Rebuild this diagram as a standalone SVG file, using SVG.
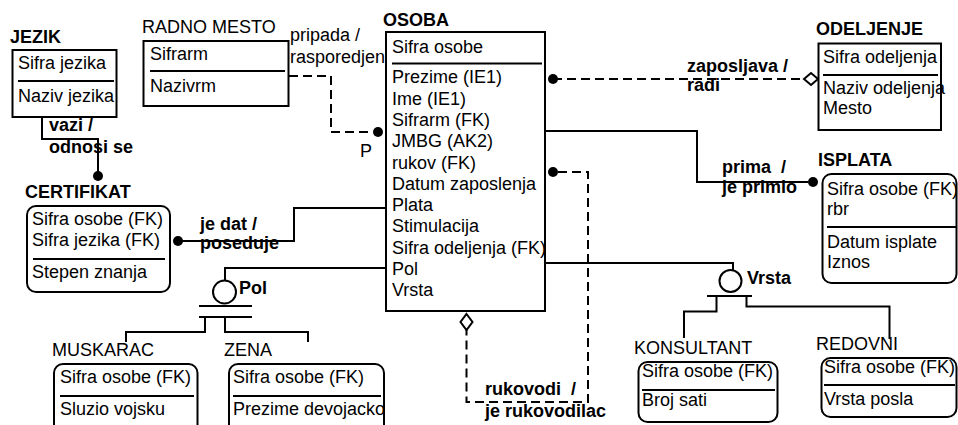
<svg xmlns="http://www.w3.org/2000/svg" width="958" height="425" viewBox="0 0 958 425">
<style>
text{font-family:"Liberation Sans",Arial,sans-serif;font-size:18px;fill:#000}
.b{font-weight:bold}
.box{fill:#fff;stroke:#000;stroke-width:2}
.dv{stroke:#000;stroke-width:2}
.ln{fill:none;stroke:#000;stroke-width:2}
.ds{fill:none;stroke:#000;stroke-width:2;stroke-dasharray:9 5}
.dot{fill:#000}
.dia{fill:#fff;stroke:#000;stroke-width:2}
.cir{fill:#fff;stroke:#000;stroke-width:2}
</style>
<rect width="958" height="425" fill="#fff"/>
<g id="connectors">
<polyline class="ln" points="42,117 42,139 98,139 98,176"/>
<circle class="dot" cx="98" cy="176" r="5"/>
<polyline class="ds" points="289,76 331,76 331,132 372,132"/>
<circle class="dot" cx="378" cy="132" r="5"/>
<polyline class="ln" points="178,241 294,241 294,208 386,208"/>
<circle class="dot" cx="178" cy="241" r="5"/>
<line class="ds" x1="553" y1="79" x2="803" y2="79"/>
<circle class="dot" cx="553" cy="79" r="5"/>
<polygon class="dia" points="804,79 811,73 818,79 811,85"/>
<polyline class="ln" points="545,131 697,131 697,182 808,182"/>
<circle class="dot" cx="813" cy="182" r="5"/>
<polyline class="ds" points="558,172 588,172 588,402 466.5,402 466.5,330"/>
<circle class="dot" cx="553" cy="172" r="5"/>
<polygon class="dia" points="466.5,314 472.5,322 466.5,330 460.5,322"/>
<polyline class="ln" points="386,268 225,268 225,280"/>
<circle class="cir" cx="224.5" cy="292" r="11.5"/>
<line class="dv" x1="199" y1="306" x2="252" y2="306"/>
<line class="dv" x1="199" y1="317" x2="252" y2="317"/>
<polyline class="ln" points="205,317 205,332 126,332 126,342"/>
<polyline class="ln" points="225,317 225,332 308,332 308,342"/>
<polyline class="ln" points="545,263 733,263 733,270"/>
<circle class="cir" cx="730.5" cy="281" r="11"/>
<line class="dv" x1="707" y1="296" x2="752" y2="296"/>
<polyline class="ln" points="716.5,296 716.5,311.5 684,311.5 684,338"/>
<polyline class="ln" points="746.5,296 746.5,306.5 889.5,306.5 889.5,339"/>
<text class="b" x="49" y="131">vazi /</text>
<text class="b" x="49" y="153">odnosi se</text>
<text x="290" y="41">pripada /</text>
<text x="290" y="63">rasporedjen</text>
<text x="360" y="157">P</text>
<text class="b" x="200" y="230">je dat /</text>
<text class="b" x="200" y="249">poseduje</text>
<text class="b" x="687" y="72">zaposljava /</text>
<text class="b" x="687" y="91">radi</text>
<text class="b" x="722" y="173" xml:space="preserve">prima  /</text>
<text class="b" x="722" y="193">je primio</text>
<text class="b" x="485" y="395" xml:space="preserve">rukovodi  /</text>
<text class="b" x="485" y="417">je rukovodilac</text>
<text class="b" x="239" y="294">Pol</text>
<text class="b" x="747" y="284">Vrsta</text>
</g>
<g id="jezik">
<text class="b" x="10" y="43">JEZIK</text>
<rect class="box" x="12.5" y="50" width="104" height="67"/>
<line class="dv" x1="18" y1="81" x2="114" y2="81"/>
<text x="18" y="69">Sifra jezika</text>
<text x="18" y="102">Naziv jezika</text>
</g>
<g id="radno-mesto">
<text x="142" y="33">RADNO MESTO</text>
<rect class="box" x="143.5" y="41" width="145" height="65"/>
<line class="dv" x1="150" y1="71" x2="285" y2="71"/>
<text x="150" y="60">Sifrarm</text>
<text x="150" y="92">Nazivrm</text>
</g>
<g id="osoba">
<text class="b" x="383" y="26">OSOBA</text>
<rect class="box" x="386" y="32" width="159" height="279"/>
<line class="dv" x1="392" y1="63.5" x2="542" y2="63.5"/>
<text x="392" y="53">Sifra osobe</text>
<text x="392" y="83.3">Prezime (IE1)</text>
<text x="392" y="104.6">Ime (IE1)</text>
<text x="392" y="125.9">Sifrarm (FK)</text>
<text x="392" y="147.2">JMBG (AK2)</text>
<text x="392" y="168.5">rukov (FK)</text>
<text x="392" y="189.8">Datum zaposlenja</text>
<text x="392" y="211.1">Plata</text>
<text x="392" y="232.4">Stimulacija</text>
<text x="392" y="253.7">Sifra odeljenja (FK)</text>
<text x="392" y="275">Pol</text>
<text x="392" y="296.3">Vrsta</text>
</g>
<g id="odeljenje">
<text class="b" x="816" y="35">ODELJENJE</text>
<rect class="box" x="818.5" y="43.5" width="122.5" height="86.5"/>
<line class="dv" x1="823" y1="75" x2="938" y2="75"/>
<text x="823" y="63">Sifra odeljenja</text>
<text x="823" y="94">Naziv odeljenja</text>
<text x="823" y="114">Mesto</text>
</g>
<g id="isplata">
<text class="b" x="818" y="166">ISPLATA</text>
<rect class="box" x="822.5" y="174" width="134" height="109" rx="9"/>
<line class="dv" x1="827" y1="227" x2="956" y2="227"/>
<text x="827" y="195">Sifra osobe (FK)</text>
<text x="827" y="215">rbr</text>
<text x="827" y="248">Datum isplate</text>
<text x="827" y="268">Iznos</text>
</g>
<g id="certifikat">
<text class="b" x="25" y="198">CERTIFIKAT</text>
<rect class="box" x="27" y="206" width="143" height="86" rx="9"/>
<line class="dv" x1="33" y1="259" x2="165" y2="259"/>
<text x="32" y="225">Sifra osobe (FK)</text>
<text x="32" y="246">Sifra jezika (FK)</text>
<text x="32" y="278">Stepen znanja</text>
</g>
<g id="muskarac">
<text x="52" y="356">MUSKARAC</text>
<rect class="box" x="54" y="364" width="143.5" height="70" rx="9"/>
<line class="dv" x1="60" y1="396" x2="194" y2="396"/>
<text x="60" y="383">Sifra osobe (FK)</text>
<text x="60" y="415">Sluzio vojsku</text>
</g>
<g id="zena">
<text x="224" y="356">ZENA</text>
<rect class="box" x="229" y="364" width="155" height="70" rx="9"/>
<line class="dv" x1="233" y1="396" x2="381" y2="396"/>
<text x="233" y="383">Sifra osobe (FK)</text>
<text x="233" y="415">Prezime devojacko</text>
</g>
<g id="konsultant">
<text x="634" y="354">KONSULTANT</text>
<rect class="box" x="638.5" y="362" width="139" height="60" rx="9"/>
<line class="dv" x1="642" y1="390" x2="775" y2="390"/>
<text x="642" y="377">Sifra osobe (FK)</text>
<text x="642" y="406">Broj sati</text>
</g>
<g id="redovni">
<text x="816" y="350">REDOVNI</text>
<rect class="box" x="821.5" y="358" width="135" height="59" rx="9"/>
<line class="dv" x1="824" y1="385" x2="955" y2="385"/>
<text x="824" y="373">Sifra osobe (FK)</text>
<text x="824" y="405">Vrsta posla</text>
</g>
</svg>
